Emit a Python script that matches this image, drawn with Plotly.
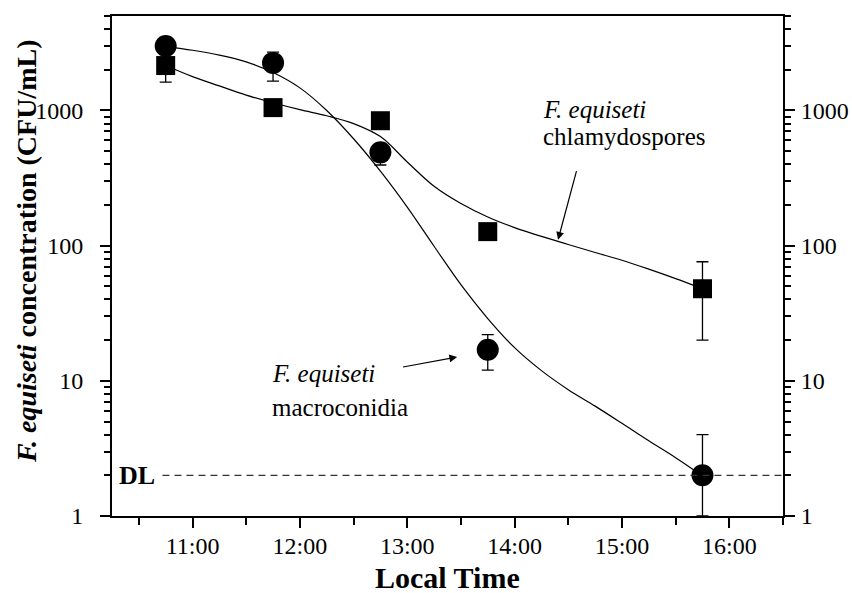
import plotly.graph_objects as go

# ---------------- data ----------------
times = ["10:45", "11:45", "12:45", "13:45", "15:45"]

macro = [3000, 2250, 490, 17, 2]
macro_err_plus = [0, 450, 0, 5, 2]
macro_err_minus = [0, 600, 95, 5, 1]

chlamy = [2150, 1050, 840, 127, 48]
chlamy_err_plus = [0, 0, 0, 0, 28]
chlamy_err_minus = [530, 0, 0, 0, 28]

# fitted curves (every quarter hour)
fit_t = ["10:45", "11:00", "11:15", "11:30", "11:45", "12:00", "12:15", "12:30",
         "12:45", "13:00", "13:15", "13:30", "13:45", "14:00", "14:15", "14:30",
         "14:45", "15:00", "15:15", "15:30", "15:45"]
fit_macro = [2970, 2790, 2570, 2290, 1910, 1470, 1000, 618,
             356, 193, 99, 51.4, 28.9, 17.6, 11.9, 8.6,
             6.5, 4.85, 3.6, 2.7, 1.98]
fit_chlamy = [2150, 1780, 1520, 1300, 1140, 1014, 914, 800,
              641, 416, 275, 205, 163, 136, 117, 102,
              89, 78, 67, 57, 48]

DL = 2
hour_ticks = [11, 12, 13, 14, 15, 16]
hour_labels = ["11:00", "12:00", "13:00", "14:00", "15:00", "16:00"]
y_title = "<b><i>F. equiseti</i> concentration (CFU/mL)</b>"
x_title = "<b>Local Time</b>"


def to_h(s):
    h, m = s.split(":")
    return int(h) + int(m) / 60.0


x = [to_h(t) for t in times]
xf = [to_h(t) for t in fit_t]
FONT = "Liberation Serif, Times New Roman, serif"
X_RANGE = [10.25, 16.5]
Y_RANGE = [0, 3.699]

fig = go.Figure()

for vals in (fit_macro, fit_chlamy):
    fig.add_trace(go.Scatter(
        x=xf, y=vals, mode="lines",
        line=dict(color="black", width=1.2, shape="spline", smoothing=1.0),
        showlegend=False, hoverinfo="skip"))

# detection limit line (drawn on the right-hand axis, same scale)
fig.add_trace(go.Scatter(
    x=[10.72, X_RANGE[1]], y=[DL, DL], mode="lines", yaxis="y2",
    line=dict(color="#333333", width=1.3, dash="7px,5px"),
    showlegend=False, hoverinfo="skip"))

fig.add_trace(go.Scatter(
    x=x, y=chlamy, mode="markers", name="chlamydospores",
    marker=dict(symbol="square", size=19, color="black"),
    error_y=dict(type="data", symmetric=False, array=chlamy_err_plus,
                 arrayminus=chlamy_err_minus, color="black", thickness=1.3, width=6),
    showlegend=False))
fig.add_trace(go.Scatter(
    x=x, y=macro, mode="markers", name="macroconidia",
    marker=dict(symbol="circle", size=22, color="black"),
    error_y=dict(type="data", symmetric=False, array=macro_err_plus,
                 arrayminus=macro_err_minus, color="black", thickness=1.3, width=6),
    showlegend=False))

yax_common = dict(
    type="log", range=Y_RANGE, tickmode="linear", tick0=0, dtick=1,
    exponentformat="none", showgrid=False, zeroline=False,
    showline=True, linecolor="black", linewidth=2,
    ticks="outside", ticklen=10, tickwidth=2, tickcolor="black",
    automargin=False,
    tickfont=dict(family=FONT, size=24, color="black"),
    minor=dict(ticks="outside", ticklen=6, tickwidth=1.5, tickcolor="black",
               dtick="D1", showgrid=False),
)

fig.update_layout(
    width=852, height=593, autosize=False,
    margin=dict(l=112, r=69, t=16, b=77),
    paper_bgcolor="white", plot_bgcolor="white",
    font=dict(family=FONT, color="black"),
    xaxis=dict(
        range=X_RANGE, tickmode="array", tickvals=hour_ticks, ticktext=hour_labels,
        showgrid=False, zeroline=False, showline=True, mirror=True,
        linecolor="black", linewidth=2, automargin=False,
        ticks="outside", ticklen=10, tickwidth=2, tickcolor="black",
        ticklabelstandoff=-3,
        tickfont=dict(family=FONT, size=24, color="black"),
        minor=dict(tickmode="linear", tick0=10.5, dtick=0.5, ticks="outside",
                   ticklen=7, tickwidth=2, tickcolor="black", showgrid=False),
    ),
    yaxis=dict(side="left", ticklabelstandoff=12, **yax_common),
    yaxis2=dict(side="right", overlaying="y", ticklabelstandoff=1, **yax_common),
)

# axis titles
fig.add_annotation(text=y_title, xref="paper", yref="paper", x=-0.128, y=0.53,
                   textangle=-90, showarrow=False, xanchor="center", yanchor="middle",
                   font=dict(family=FONT, size=28, color="black"))
fig.add_annotation(text=x_title, xref="paper", yref="paper", x=0.5, y=-0.122,
                   showarrow=False, xanchor="center", yanchor="middle",
                   font=dict(family=FONT, size=30, color="black"))

# DL label
fig.add_annotation(text="<b>DL</b>", x=10.30, y=0.301, xanchor="left", yanchor="middle",
                   showarrow=False, font=dict(family=FONT, size=26, color="black"))

# series labels
lab = dict(family=FONT, size=25, color="black")
fig.add_annotation(text="<i>F. equiseti</i>", x=14.245, y=3.007, xanchor="left",
                   yanchor="middle", showarrow=False, font=lab)
fig.add_annotation(text="chlamydospores", x=14.245, y=2.807, xanchor="left",
                   yanchor="middle", showarrow=False, font=lab)
fig.add_annotation(text="<i>F. equiseti</i>", x=11.72, y=1.052, xanchor="left",
                   yanchor="middle", showarrow=False, font=lab)
fig.add_annotation(text="macroconidia", x=11.72, y=0.80, xanchor="left",
                   yanchor="middle", showarrow=False, font=lab)

# arrows
fig.add_annotation(x=14.405, y=2.044, ax=14.58, ay=2.563, xref="x", yref="y",
                   axref="x", ayref="y", text="", showarrow=True, arrowhead=2,
                   arrowsize=1.3, arrowwidth=1.2, arrowcolor="black")
fig.add_annotation(x=13.465, y=1.176, ax=12.947, ay=1.10, xref="x", yref="y",
                   axref="x", ayref="y", text="", showarrow=True, arrowhead=2,
                   arrowsize=1.3, arrowwidth=1.2, arrowcolor="black")

# remove the default page margin so the 852x593 figure fills the window exactly
fig.write_html("out.html", config={"displayModeBar": False},
               post_script="document.body.style.margin='0px';")
